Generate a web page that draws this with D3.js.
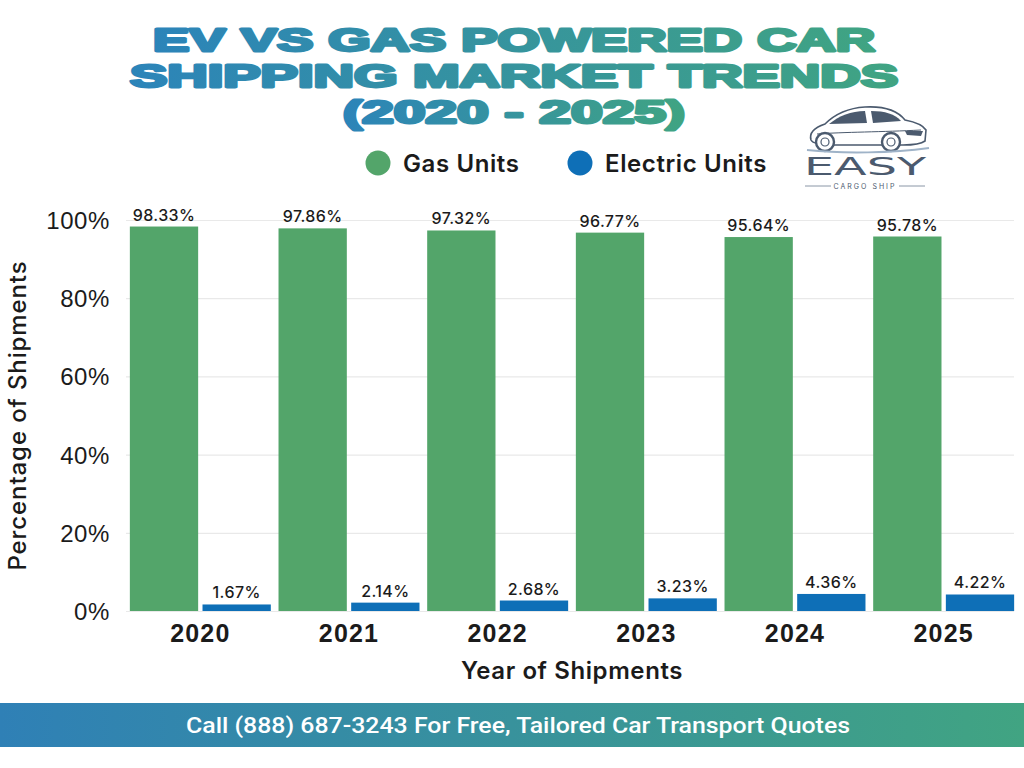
<!DOCTYPE html>
<html>
<head>
<meta charset="utf-8">
<script src="https://cdn.jsdelivr.net/npm/d3@7"></script>
<style>
  html, body { margin: 0; padding: 0; background: #fff; }
  svg { display: block; font-family: Inter, "Noto Sans", sans-serif; }
</style>
</head>
<body>
<div id="chart"></div>
<script>
// data
const years    = ['2020', '2021', '2022', '2023', '2024', '2025'];
const series   = ['Gas Units', 'Electric Units'];
const gasPct   = [98.33, 97.86, 97.32, 96.77, 95.64, 95.78];
const evPct    = [1.67, 2.14, 2.68, 3.23, 4.36, 4.22];
const yTicks   = [0, 20, 40, 60, 80, 100];
const titleLines = ['EV VS GAS POWERED CAR', 'SHIPPING MARKET TRENDS', '(2020 - 2025)'];

const COLOR_GAS  = '#53a56a';
const COLOR_EV   = '#0e6fb7';
const COLOR_TEXT = '#1b1b1b';
const COLOR_GRID = '#e9e9e9';

const W = 1024, H = 768;
const margin = { top: 220, right: 4, bottom: 157, left: 126 };

const svg = d3.select('#chart').append('svg')
    .attr('width', W).attr('height', H);

// gradients for title and footer
const defs = svg.append('defs');
function gradient(id, from, to) {
    const g = defs.append('linearGradient').attr('id', id)
        .attr('x1', '0%').attr('x2', '100%').attr('y1', '0%').attr('y2', '0%');
    g.append('stop').attr('offset', '0%').attr('stop-color', from);
    g.append('stop').attr('offset', '100%').attr('stop-color', to);
}
gradient('titleGrad', '#2c84b9', '#40a482');
gradient('footGrad', '#2f80b6', '#41a482');

// title: tight lines, thickened with a stroke
const titleWidths = [722, 768, 342];
svg.append('g').selectAll('text')
    .data(titleLines)
    .join('text')
    .attr('x', 514)
    .attr('y', (d, i) => 51 + i * 36)
    .attr('text-anchor', 'middle')
    .attr('font-family', '"Liberation Sans", Arial, sans-serif')
    .attr('font-weight', 700)
    .attr('font-size', 32)
    .attr('textLength', (d, i) => titleWidths[i])
    .attr('lengthAdjust', 'spacingAndGlyphs')
    .attr('fill', 'url(#titleGrad)')
    .attr('stroke', 'url(#titleGrad)')
    .attr('stroke-width', 2.8)
    .attr('stroke-linejoin', 'round')
    .text(d => d);

// scales
const x0 = d3.scaleBand()
    .domain(years)
    .range([margin.left, W - margin.right - 2]);
const x1 = d3.scaleBand()
    .domain(series)
    .range([0, x0.bandwidth()])
    .paddingInner(0.06)
    .paddingOuter(0.053);
const y = d3.scaleLinear()
    .domain([0, 100])
    .range([H - margin.bottom, margin.top]);
const color = d3.scaleOrdinal().domain(series).range([COLOR_GAS, COLOR_EV]);

// grid
svg.append('g')
    .attr('transform', `translate(${margin.left},0)`)
    .call(d3.axisLeft(y).tickValues(yTicks).tickSize(-(x0.range()[1] - margin.left - 4)).tickFormat(''))
    .call(g => g.select('.domain').remove())
    .call(g => g.selectAll('line').attr('stroke', COLOR_GRID).attr('stroke-width', 1.2));

// y tick labels
svg.append('g')
    .attr('transform', `translate(${margin.left - 16},0)`)
    .call(d3.axisLeft(y).tickValues(yTicks).tickSize(0).tickFormat(d => d + '%'))
    .call(g => g.select('.domain').remove())
    .call(g => g.selectAll('text')
        .attr('fill', COLOR_TEXT)
        .attr('font-size', 24)
        .attr('font-weight', 500)
        .attr('letter-spacing', 0.6)
        .attr('dy', '0.35em')
        .attr('x', 0));

// x tick labels
svg.append('g')
    .attr('transform', `translate(0,${H - margin.bottom})`)
    .call(d3.axisBottom(x0).tickSize(0))
    .call(g => g.select('.domain').remove())
    .call(g => g.selectAll('text')
        .attr('fill', COLOR_TEXT)
        .attr('font-size', 25)
        .attr('font-weight', 600)
        .attr('letter-spacing', 1.2)
        .attr('y', 31)
        .attr('dy', 0));

// bars
const rows = years.map((yr, i) => ({ year: yr, values: [
    { key: series[0], value: gasPct[i] },
    { key: series[1], value: evPct[i] }
] }));

const groups = svg.append('g').selectAll('g')
    .data(rows)
    .join('g')
    .attr('transform', d => `translate(${x0(d.year)},0)`);

groups.selectAll('rect')
    .data(d => d.values)
    .join('rect')
    .attr('x', d => x1(d.key))
    .attr('width', x1.bandwidth())
    .attr('y', d => y(d.value))
    .attr('height', d => y(0) - y(d.value))
    .attr('fill', d => color(d.key));

groups.selectAll('text.val')
    .data(d => d.values)
    .join('text')
    .attr('class', 'val')
    .attr('x', d => x1(d.key) + x1.bandwidth() / 2)
    .attr('y', d => y(d.value) - 6)
    .attr('text-anchor', 'middle')
    .attr('font-size', 16)
    .attr('font-weight', 500)
    .attr('letter-spacing', 0.4)
    .attr('fill', COLOR_TEXT)
    .text(d => d.value.toFixed(2) + '%');

// axis titles
svg.append('text')
    .attr('x', (margin.left + x0.range()[1]) / 2)
    .attr('y', 679)
    .attr('text-anchor', 'middle')
    .attr('font-size', 24)
    .attr('font-weight', 600)
    .attr('letter-spacing', 0.6)
    .attr('fill', COLOR_TEXT)
    .text('Year of Shipments');

svg.append('text')
    .attr('transform', `translate(26,${(y(0) + y(100)) / 2}) rotate(-90)`)
    .attr('text-anchor', 'middle')
    .attr('font-size', 24)
    .attr('font-weight', 500)
    .attr('letter-spacing', 0.9)
    .attr('fill', COLOR_TEXT)
    .text('Percentage of Shipments');

// legend
const legendX = [378, 580];
const legend = svg.append('g').selectAll('g')
    .data(series)
    .join('g')
    .attr('transform', (d, i) => `translate(${legendX[i]},163)`);
legend.append('circle').attr('r', 12.5).attr('fill', d => color(d));
legend.append('text')
    .attr('x', 25).attr('y', 8.5)
    .attr('font-size', 24)
    .attr('font-weight', 600)
    .attr('letter-spacing', 0.6)
    .attr('fill', COLOR_TEXT)
    .text(d => d);

// logo
const logo = svg.append('g').attr('transform', 'translate(803,100)');
const INK = '#4b5a6e';
logo.append('path')
    .attr('d', 'M8 40 C6 33 10 28 22 24 C32 14 46 8 62 7 C80 6 94 10 102 20 C112 22 120 25 123 30 L122 41 C118 44 110 45 100 45 L30 45 C18 45 10 44 8 40 Z')
    .attr('fill', '#fff').attr('stroke', INK).attr('stroke-width', 1.6);
logo.append('path')
    .attr('d', 'M26 24 C36 16 48 11 62 11 L64 23 Z')
    .attr('fill', INK);
logo.append('path')
    .attr('d', 'M68 11 C82 11 92 14 98 21 L70 23 Z')
    .attr('fill', INK);
logo.append('path')
    .attr('d', 'M102 31 L120 31 L118 36 L104 35 Z')
    .attr('fill', INK);
logo.append('path')
    .attr('d', 'M14 34 C40 32 80 32 118 30')
    .attr('fill', 'none').attr('stroke', INK).attr('stroke-width', 1);
[22, 88].forEach(cx => {
    logo.append('circle').attr('cx', cx).attr('cy', 42).attr('r', 9)
        .attr('fill', '#fff').attr('stroke', INK).attr('stroke-width', 2.4);
    logo.append('circle').attr('cx', cx).attr('cy', 42).attr('r', 4)
        .attr('fill', 'none').attr('stroke', INK).attr('stroke-width', 1.2);
});
logo.append('path')
    .attr('d', 'M4 50 C40 54 90 53 126 48')
    .attr('fill', 'none').attr('stroke', '#9fb3c8').attr('stroke-width', 2);
logo.append('text')
    .attr('x', 62).attr('y', 75)
    .attr('text-anchor', 'middle')
    .attr('font-family', '"DejaVu Sans", sans-serif')
    .attr('font-size', 25)
    .attr('font-weight', 400)
    .attr('textLength', 122)
    .attr('lengthAdjust', 'spacingAndGlyphs')
    .attr('fill', INK)
    .text('EASY');
logo.append('text')
    .attr('x', 62).attr('y', 89)
    .attr('text-anchor', 'middle')
    .attr('font-size', 7)
    .attr('letter-spacing', 2)
    .attr('fill', INK)
    .text('CARGO SHIP');
[[2, 28], [96, 122]].forEach(([a, b]) => {
    logo.append('line').attr('x1', a).attr('x2', b).attr('y1', 86).attr('y2', 86)
        .attr('stroke', '#8a96a6').attr('stroke-width', 1);
});

// footer band
svg.append('rect')
    .attr('x', 0).attr('y', 703).attr('width', W).attr('height', 44)
    .attr('fill', 'url(#footGrad)');
svg.append('text')
    .attr('x', 518).attr('y', 733)
    .attr('text-anchor', 'middle')
    .attr('font-family', 'Roboto, sans-serif')
    .attr('font-size', 22)
    .attr('font-weight', 500)
    .attr('textLength', 664)
    .attr('lengthAdjust', 'spacingAndGlyphs')
    .attr('fill', '#fff')
    .text('Call (888) 687-3243 For Free, Tailored Car Transport Quotes');
</script>
</body>
</html>
